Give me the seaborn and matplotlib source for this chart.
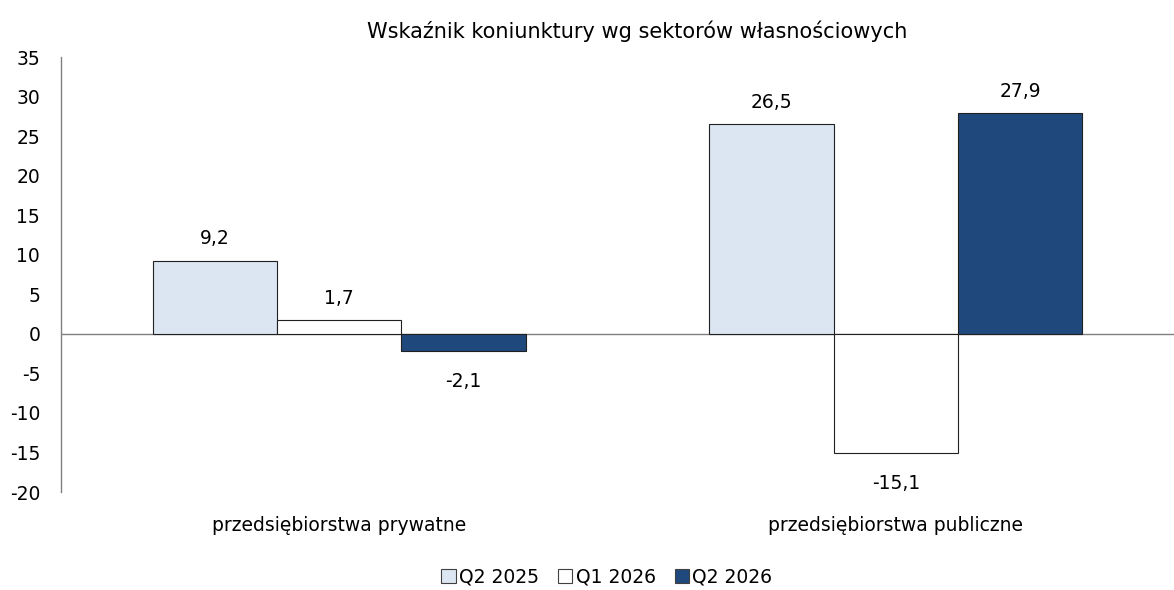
import matplotlib
matplotlib.use("Agg")
import matplotlib.pyplot as plt
import seaborn as sns
import pandas as pd
from matplotlib.patches import Patch

categories = ["przedsiębiorstwa prywatne", "przedsiębiorstwa publiczne"]
series = ["Q2 2025", "Q1 2026", "Q2 2026"]
q2_2025 = [9.2, 26.5]
q1_2026 = [1.7, -15.1]
q2_2026 = [-2.1, 27.9]
colors = ["#DCE6F2", "#FFFFFF", "#1F497D"]
yticks = [35, 30, 25, 20, 15, 10, 5, 0, -5, -10, -15, -20]

rows = []
for s, vals in zip(series, [q2_2025, q1_2026, q2_2026]):
    for c, v in zip(categories, vals):
        rows.append({"cat": c, "series": s, "val": v})
df = pd.DataFrame(rows)

sns.set_theme(style="white")
plt.rcParams["font.family"] = ["DejaVu Sans"]
plt.rcParams["text.color"] = "#000000"
plt.rcParams["xtick.color"] = "#000000"
plt.rcParams["ytick.color"] = "#000000"

FS = 13.5

fig = plt.figure(figsize=(11.74, 5.90), dpi=100)
ax = fig.add_axes([0.052, 0.166, 0.948, 0.737])

sns.barplot(data=df, x="cat", y="val", hue="series", order=categories,
            hue_order=series, palette=colors, saturation=1, width=0.67, gap=0,
            edgecolor="#202020", linewidth=0.8, ax=ax, legend=False)

for cont in ax.containers:
    for bar, v in zip(cont, cont.datavalues):
        lab = f"{v:.1f}".replace(".", ",")
        ax.annotate(lab, (bar.get_x() + bar.get_width() / 2, v),
                    xytext=(0, 16 if v >= 0 else -22), textcoords="offset points",
                    ha="center", va="center", fontsize=FS, color="#000000")

ax.set_ylim(-20, 35)
ax.set_yticks(yticks)
ax.set_yticklabels([str(t) for t in yticks], fontsize=FS)
ax.set_xlim(-0.5, 1.5)
ax.axhline(0, color="#808080", linewidth=1, zorder=0.5)
ax.tick_params(axis="x", length=0, pad=17, labelsize=FS)
ax.tick_params(axis="y", length=0, pad=15)
for sp in ["top", "right", "bottom"]:
    ax.spines[sp].set_visible(False)
ax.spines["left"].set_color("#808080")
ax.spines["left"].set_linewidth(1)
ax.set_xlabel("")
ax.set_ylabel("")
ax.set_title("Wskaźnik koniunktury wg sektorów własnościowych", fontsize=15,
             pad=14, x=0.518, color="#000000")

handles = [Patch(facecolor=c, edgecolor="#404040", linewidth=0.8) for c in colors]
fig.legend(handles, series, loc="center", bbox_to_anchor=(0.517, 0.022), ncol=3,
           frameon=False, fontsize=FS, handlelength=0.75, handleheight=0.75,
           handletextpad=0.2, columnspacing=1.0)

fig.savefig("out.png", dpi=100)
